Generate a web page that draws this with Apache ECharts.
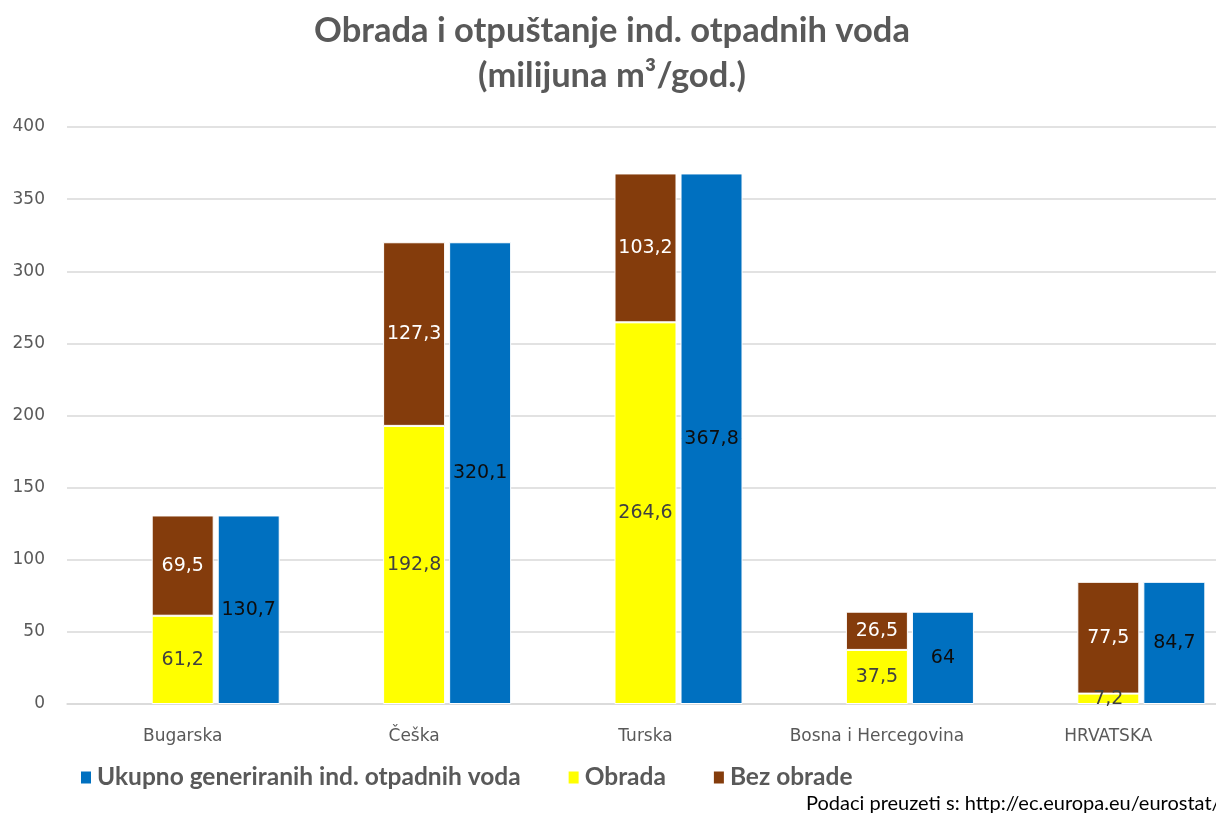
<!DOCTYPE html>
<html><head><meta charset="utf-8">
<script src="https://cdn.jsdelivr.net/npm/echarts@6/dist/echarts.min.js"></script>
<style>html,body{margin:0;padding:0;background:#fff;overflow:hidden;width:1216px;height:816px}#c{width:1224px;height:816px}</style>
</head><body><div id="c"></div>
<script>
const categories = ['Bugarska', 'Češka', 'Turska', 'Bosna i Hercegovina', 'HRVATSKA'];
const obrada = [61.2, 192.8, 264.6, 37.5, 7.2];
const bezObrade = [69.5, 127.3, 103.2, 26.5, 77.5];
const ukupno = [130.7, 320.1, 367.8, 64, 84.7];
const emptySlot = ['-', '-', '-', '-', '-'];

const fmt = p => String(p.value).replace('.', ',');
const chart = echarts.init(document.getElementById('c'));
const font = '"DejaVu Sans", sans-serif';
chart.setOption({
  animation: false,
  title: {
    text: 'Obrada i otpuštanje ind. otpadnih voda\n(milijuna m³/god.)',
    left: 'center', top: 3,
    textStyle: { fontFamily: 'Lato, sans-serif', fontWeight: 'bold', fontSize: 34.5, color: '#595959', lineHeight: 45 }
  },
  grid: { left: 67, right: 0, top: 127, bottom: 112 },
  legend: {
    data: ['Ukupno generiranih ind. otpadnih voda', 'Obrada', 'Bez obrade'],
    left: 74, top: 760, itemWidth: 12, itemHeight: 14, itemGap: 46,
    icon: 'rect',
    textStyle: { fontFamily: 'Lato, sans-serif', fontWeight: 'bold', fontSize: 24.5, color: '#595959' }
  },
  xAxis: {
    type: 'category', data: categories,
    axisTick: { show: false },
    axisLine: { lineStyle: { color: '#d9d9d9', width: 1.5 } },
    axisLabel: { fontFamily: font, fontSize: 17, color: '#595959', margin: 24 }
  },
  yAxis: {
    type: 'value', min: 0, max: 400, interval: 50,
    axisLabel: { fontFamily: font, fontSize: 17, color: '#595959', margin: 22 },
    splitLine: { lineStyle: { color: '#d9d9d9', width: 1.5 } }
  },
  graphic: [{
    type: 'text', left: 806, top: 794,
    style: { text: 'Podaci preuzeti s: http://ec.europa.eu/eurostat/', font: '20px Lato, sans-serif', fill: '#000' }
  }],
  series: [
    { name: 'empty', type: 'bar', data: emptySlot, barWidth: 62, barGap: '6.5%' },
    { name: 'Obrada', type: 'bar', stack: 's', data: obrada, barWidth: 62,
      itemStyle: { color: '#FFFF00', borderColor: '#fff', borderWidth: 1 },
      label: { show: true, position: 'inside', formatter: fmt, fontFamily: font, fontSize: 19, color: '#404040' } },
    { name: 'Bez obrade', type: 'bar', stack: 's', data: bezObrade, barWidth: 62,
      itemStyle: { color: '#843C0C', borderColor: '#fff', borderWidth: 1 },
      label: { show: true, position: 'inside', formatter: fmt, fontFamily: font, fontSize: 19, color: '#fff' } },
    { name: 'Ukupno generiranih ind. otpadnih voda', type: 'bar', data: ukupno, barWidth: 62,
      itemStyle: { color: '#0070C0', borderColor: '#fff', borderWidth: 1 },
      label: { show: true, position: 'inside', formatter: fmt, fontFamily: font, fontSize: 19, color: '#0d0d0d' } }
  ]
});
</script></body></html>
